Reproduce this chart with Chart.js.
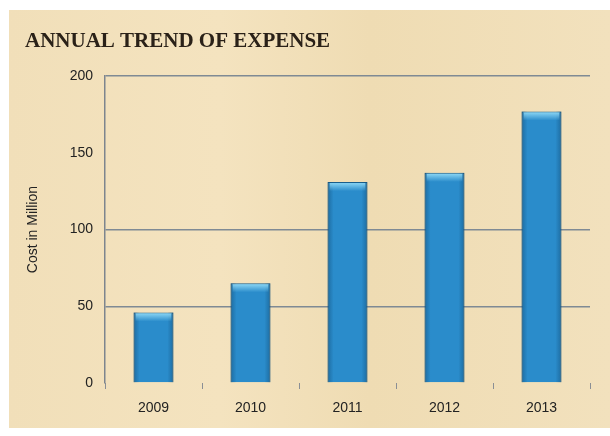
<!DOCTYPE html>
<html>
<head>
<meta charset="utf-8">
<script src="https://cdn.jsdelivr.net/npm/chart.js@4"></script>
<style>
  html, body { margin: 0; padding: 0; background: #fff; }
  #wrap { width: 610px; height: 436px; }
</style>
</head>
<body>
<div id="wrap"><canvas id="chart" width="610" height="436"></canvas></div>
<script>
// Chart data
const years = ['2009', '2010', '2011', '2012', '2013'];
const expense = [46, 65, 131, 137, 177];
const yTicks = [0, 50, 100, 150, 200];

// Parchment-like background behind the chart
const parchment = {
    id: 'parchment',
    beforeDraw(chart) {
        const ctx = chart.ctx;
        ctx.save();
        const g = ctx.createLinearGradient(9, 0, 610, 0);
        g.addColorStop(0, '#f1dfb9');
        g.addColorStop(0.35, '#f4e3bf');
        g.addColorStop(0.6, '#efdcb3');
        g.addColorStop(1, '#f2e1bd');
        ctx.fillStyle = g;
        ctx.fillRect(9, 10, 601, 418);
        ctx.restore();
    }
};

// Rounded look on the bars: darker sides and a light strip on top
const barShine = {
    id: 'barShine',
    afterDatasetsDraw(chart) {
        const ctx = chart.ctx;
        ctx.save();
        chart.getDatasetMeta(0).data.forEach(bar => {
            const w = bar.width;
            const left = bar.x - w / 2;
            const h = bar.base - bar.y;
            const side = ctx.createLinearGradient(left, 0, left + w, 0);
            side.addColorStop(0, 'rgba(15,70,110,0.45)');
            side.addColorStop(0.15, 'rgba(15,70,110,0)');
            side.addColorStop(0.85, 'rgba(15,70,110,0)');
            side.addColorStop(1, 'rgba(15,70,110,0.45)');
            ctx.fillStyle = side;
            ctx.fillRect(left, bar.y, w, h);

            const g = ctx.createLinearGradient(0, bar.y + 1, 0, bar.y + 9);
            g.addColorStop(0, 'rgba(140,215,245,0.95)');
            g.addColorStop(1, 'rgba(140,215,245,0)');
            ctx.fillStyle = g;
            ctx.fillRect(left + 2, bar.y + 1, w - 4, 8);
        });
        ctx.restore();
    }
};

new Chart(document.getElementById('chart'), {
    type: 'bar',
    data: {
        labels: years,
        datasets: [{
            data: expense,
            backgroundColor: '#2a8ccb',
            borderColor: '#1a5f8c',
            borderWidth: 1,
            borderSkipped: 'bottom',
            categoryPercentage: 1,
            barPercentage: 0.41
        }]
    },
    options: {
        responsive: false,
        animation: false,
        layout: { padding: { left: 25, right: 20 } },
        plugins: {
            legend: { display: false },
            tooltip: { enabled: false },
            title: {
                display: true,
                text: 'ANNUAL TREND OF EXPENSE',
                align: 'start',
                color: '#2a2118',
                font: { family: 'Liberation Serif', size: 21, weight: 'bold' },
                padding: { top: 29, bottom: 22 }
            }
        },
        scales: {
            x: {
                afterFit: s => { s.height = 53; },
                border: { display: false },
                grid: {
                    offset: true,
                    drawOnChartArea: false,
                    tickLength: 6,
                    color: '#8a8f95'
                },
                ticks: {
                    color: '#222',
                    padding: 11,
                    font: { family: 'Liberation Sans', size: 14 }
                }
            },
            y: {
                min: 0,
                max: 200,
                afterFit: s => { s.width = 80; },
                afterBuildTicks: s => { s.ticks = yTicks.map(v => ({ value: v })); },
                border: { display: true, color: '#7d858e', width: 1.5 },
                grid: {
                    drawTicks: false,
                    lineWidth: 1.5,
                    color: c => (c.tick && (c.tick.value === 0 || c.tick.value === 150)) ? 'rgba(0,0,0,0)' : '#7f8a94'
                },
                ticks: {
                    color: '#222',
                    padding: 12,
                    font: { family: 'Liberation Sans', size: 14 }
                },
                title: {
                    display: true,
                    text: 'Cost in Million',
                    color: '#222',
                    font: { family: 'Liberation Sans', size: 14 },
                    padding: { top: 0, bottom: 0 }
                }
            }
        }
    },
    plugins: [parchment, barShine]
});
</script>
</body>
</html>
